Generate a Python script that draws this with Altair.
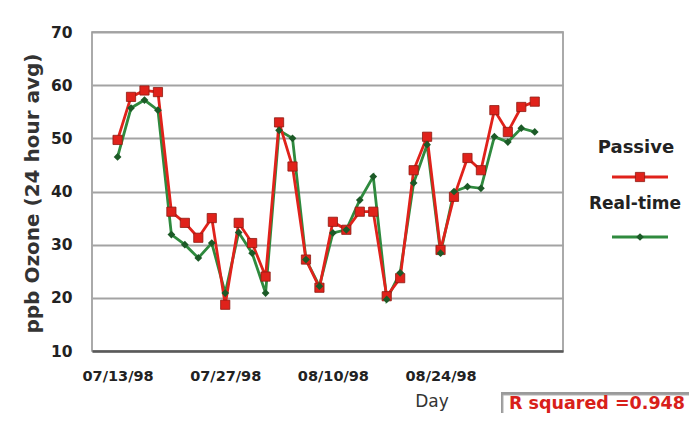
import altair as alt
import pandas as pd

# ---- data ----
day_index = list(range(32))
passive = [49.7, 57.8, 59.0, 58.7, 36.2, 34.1, 31.3, 35.0, 18.7, 34.1, 30.3, 24.0, 53.0,
           44.7, 27.2, 21.9, 34.3, 32.8, 36.2, 36.2, 20.3, 23.7, 44.0, 50.3, 29.0, 39.0,
           46.3, 44.0, 55.3, 51.2, 55.9, 56.9]
realtime = [46.5, 55.7, 57.2, 55.3, 31.9, 30.0, 27.5, 30.3, 20.9, 32.3, 28.4, 20.9, 51.5,
            50.0, 27.2, 22.2, 32.2, 32.8, 38.4, 42.8, 19.7, 24.7, 41.6, 48.8, 28.4, 40.0,
            40.9, 40.6, 50.3, 49.3, 51.9, 51.2]
tick_index = [0, 8, 16, 24]
tick_labels = ["07/13/98", "07/27/98", "08/10/98", "08/24/98"]
series_names = ["Passive", "Real-time"]
y_ticks = [10, 20, 30, 40, 50, 60, 70]
r_squared_text = "R squared =0.948"

RED = "#e0221b"
RED_DARK = "#8e1a12"
GREEN = "#2f8a3e"
GREEN_DARK = "#1c5a27"
BOLD_FONT = "DejaVu Sans"

df = pd.DataFrame({
    "idx": day_index * 2,
    "value": passive + realtime,
    "series": [series_names[0]] * len(passive) + [series_names[1]] * len(realtime),
})

label_expr = " : ".join(
    f"datum.value == {i} ? '{t}'" for i, t in zip(tick_index, tick_labels)
) + " : ''"

x_enc = alt.X(
    "idx:Q",
    scale=alt.Scale(domain=[-1.9, 33.1], nice=False, zero=False),
    axis=alt.Axis(
        values=tick_index, labelExpr=label_expr, grid=False, ticks=False,
        domain=True, domainColor="#5a5a5a", domainWidth=2.5,
        labelFont=BOLD_FONT, labelFontSize=14.5, labelFontWeight="bold",
        labelColor="#222222", labelPadding=18, title=None,
    ),
)
y_enc = alt.Y(
    "value:Q",
    scale=alt.Scale(domain=[10, 70], nice=False, zero=False),
    axis=alt.Axis(
        values=y_ticks, grid=True, gridColor="#a3a3a3", gridWidth=2,
        ticks=False, domain=False, labelFont=BOLD_FONT, labelFontSize=15.5,
        labelFontWeight="bold", labelColor="#222222", labelPadding=20,
        title="ppb Ozone (24 hour avg)", titleFont=BOLD_FONT, titleFontSize=20,
        titleFontWeight="bold", titleColor="#333333", titleAngle=270,
        titleX=-60, titleY=161, titleAlign="center", titleBaseline="middle",
    ),
)

pas = df[df.series == "Passive"]
rt = df[df.series == "Real-time"]

red_line = alt.Chart(pas).mark_line(color=RED, strokeWidth=2.8).encode(x=x_enc, y=y_enc)
red_pts = alt.Chart(pas).mark_point(
    shape="square", filled=True, size=85, color=RED, stroke=RED_DARK, strokeWidth=0.8, opacity=1
).encode(x="idx:Q", y="value:Q")
green_line = alt.Chart(rt).mark_line(color=GREEN, strokeWidth=2.8).encode(x="idx:Q", y="value:Q")
green_pts = alt.Chart(rt).mark_point(
    shape="diamond", filled=True, size=60, color=GREEN_DARK, opacity=1
).encode(x="idx:Q", y="value:Q")

# ---- custom legend ----
leg = pd.DataFrame({"name": series_names})
leg_text_p = alt.Chart(leg[leg.name == "Passive"]).mark_text(
    font=BOLD_FONT, fontSize=18, fontWeight="bold", color="#222222", align="center", baseline="middle"
).encode(text="name:N", x=alt.value(544), y=alt.value(116))
leg_text_r = alt.Chart(leg[leg.name == "Real-time"]).mark_text(
    font=BOLD_FONT, fontSize=17, fontWeight="bold", color="#222222", align="center", baseline="middle"
).encode(text="name:N", x=alt.value(543), y=alt.value(172))
leg_line_p = alt.Chart(leg[leg.name == "Passive"]).mark_rule(color=RED, strokeWidth=2.8).encode(
    x=alt.value(520), x2=alt.value(576), y=alt.value(145))
leg_pt_p = alt.Chart(leg[leg.name == "Passive"]).mark_point(
    shape="square", filled=True, size=85, color=RED, stroke=RED_DARK, strokeWidth=0.8, opacity=1
).encode(x=alt.value(548), y=alt.value(145))
leg_line_r = alt.Chart(leg[leg.name == "Real-time"]).mark_rule(color=GREEN, strokeWidth=2.8).encode(
    x=alt.value(520), x2=alt.value(576), y=alt.value(205))
leg_pt_r = alt.Chart(leg[leg.name == "Real-time"]).mark_point(
    shape="diamond", filled=True, size=60, color=GREEN_DARK, opacity=1
).encode(x=alt.value(548), y=alt.value(205))

# ---- x title and R squared box ----
day_title = alt.Chart(pd.DataFrame({"t": ["Day"]})).mark_text(
    font=BOLD_FONT, fontSize=17, color="#333333", align="center", baseline="middle"
).encode(text="t:N", x=alt.value(340), y=alt.value(370))
r_df = pd.DataFrame({"t": [r_squared_text]})
r_shadow = alt.Chart(r_df).mark_rect(fill="#9a9a9a").encode(
    x=alt.value(409), x2=alt.value(620), y=alt.value(360), y2=alt.value(400))
r_box = alt.Chart(r_df).mark_rect(fill="white", stroke="#b0b0b0", strokeWidth=1).encode(
    x=alt.value(411), x2=alt.value(620), y=alt.value(363), y2=alt.value(400))
r_text = alt.Chart(r_df).mark_text(
    font=BOLD_FONT, fontSize=17.5, fontWeight="bold", color="#d8201a", align="left", baseline="middle"
).encode(text="t:N", x=alt.value(417), y=alt.value(372))

chart = alt.layer(
    green_line, red_line, red_pts, green_pts,
    leg_text_p, leg_line_p, leg_pt_p, leg_text_r, leg_line_r, leg_pt_r,
    day_title, r_shadow, r_box, r_text,
).properties(
    width=471, height=319,
    autosize=alt.AutoSizeParams(type="none"),
    padding={"left": 84, "top": 24, "right": 126, "bottom": 62},
    background="white",
).configure_view(stroke="#8f8f8f", strokeWidth=1.5)

chart.save("out.html", embed_options={"renderer": "svg", "actions": False})
